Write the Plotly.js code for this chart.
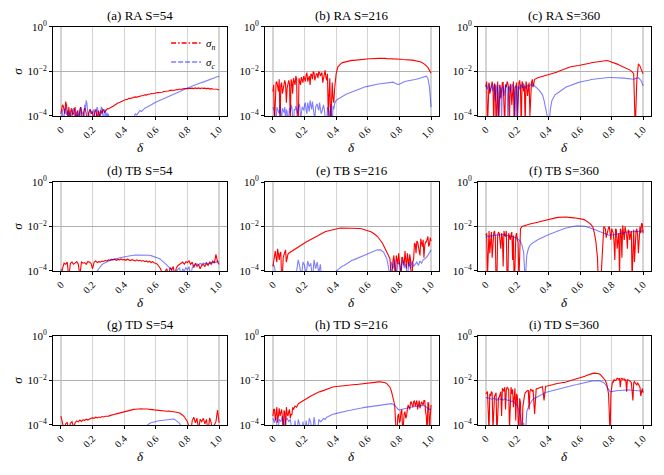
<!DOCTYPE html>
<html>
<head>
<meta charset="utf-8">
<script src="https://cdn.plot.ly/plotly-3.0.1.min.js"></script>
<style>body{margin:0;background:#fff}</style>
</head>
<body>
<div id="sigmaChart" style="width:664px;height:475px"></div>
<script>
// delta grid shared by every panel
var delta = [0,0.01,0.02,0.03,0.04,0.05,0.06,0.07,0.08,0.09,
  0.1,0.11,0.12,0.13,0.14,0.15,0.16,0.17,0.18,0.19,
  0.2,0.21,0.22,0.23,0.24,0.25,0.26,0.27,0.28,0.29,
  0.3,0.31,0.32,0.33,0.34,0.35,0.36,0.37,0.38,0.39,
  0.4,0.41,0.42,0.43,0.44,0.45,0.46,0.47,0.48,0.49,
  0.5,0.51,0.52,0.53,0.54,0.55,0.56,0.57,0.58,0.59,
  0.6,0.61,0.62,0.63,0.64,0.65,0.66,0.67,0.68,0.69,
  0.7,0.71,0.72,0.73,0.74,0.75,0.76,0.77,0.78,0.79,
  0.8,0.81,0.82,0.83,0.84,0.85,0.86,0.87,0.88,0.89,
  0.9,0.91,0.92,0.93,0.94,0.95,0.96,0.97,0.98,0.99,1.0];
// extra in-between samples, used where the curves are noisy
var deltaMid = [0.005,0.015,0.025,0.035,0.045,0.055,0.065,0.075,0.085,0.095,
  0.105,0.115,0.125,0.135,0.145,0.155,0.165,0.175,0.185,0.195,
  0.205,0.215,0.225,0.235,0.245,0.255,0.265,0.275,0.285,0.295,
  0.305,0.315,0.325,0.335,0.345,0.355,0.365,0.375,0.385,0.395,
  0.405,0.415,0.425,0.435,0.445,0.455,0.465,0.475,0.485,0.495,
  0.505,0.515,0.525,0.535,0.545,0.555,0.565,0.575,0.585,0.595,
  0.605,0.615,0.625,0.635,0.645,0.655,0.665,0.675,0.685,0.695,
  0.705,0.715,0.725,0.735,0.745,0.755,0.765,0.775,0.785,0.795,
  0.805,0.815,0.825,0.835,0.845,0.855,0.865,0.875,0.885,0.895,
  0.905,0.915,0.925,0.935,0.945,0.955,0.965,0.975,0.985,0.995];

// values below are log10(sigma)
// (a) RA S=54
var raN54 = [-3.9,-3.5,-3.7,-3.35,-3.8,-3.6,-4.3,-3.75,-3.9,-3.6,
  -3.85,-4.4,-3.7,-3.8,-3.95,-3.65,-3.9,-4.5,-3.75,-3.85,
  -3.8,-3.95,-3.7,-4.3,-3.85,-3.75,-3.9,-3.72,-3.8,-3.7,
  -3.68,-3.62,-3.6,-3.56,-3.5,-3.48,-3.42,-3.39,-3.35,-3.33,
  -3.3,-3.26,-3.26,-3.21,-3.21,-3.18,-3.18,-3.14,-3.15,-3.12,
  -3.12,-3.09,-3.09,-3.05,-3.06,-3.02,-3.02,-2.99,-3.0,-2.97,
  -2.97,-2.95,-2.95,-2.92,-2.93,-2.9,-2.9,-2.87,-2.88,-2.85,
  -2.85,-2.83,-2.84,-2.81,-2.82,-2.79,-2.81,-2.78,-2.79,-2.77,
  -2.77,-2.76,-2.77,-2.75,-2.77,-2.74,-2.77,-2.74,-2.77,-2.74,
  -2.76,-2.75,-2.78,-2.75,-2.79,-2.77,-2.79,-2.79,-2.81,-2.8,-2.83];
var raN54Mid = [-3.7,-3.55,-3.9,-3.5,-4.2,-3.8,-3.65,-3.95,-3.7,-4.3,
  -3.75,-3.9,-3.6,-4.4,-3.8,-3.7,-4.1,-3.85,-3.7,-3.9,
  -4.3,-3.8,-3.9,-3.75,-4.2,-3.8,-3.7,-3.85,-3.75,-3.66];
var raC54 = [-4.5,-3.7,-3.9,-3.6,-3.85,-4.4,-3.75,-3.9,-3.65,-4.5,
  -3.8,-3.9,-4.4,-3.7,-3.85,-3.5,-3.3,-3.9,-4.5,-3.8,
  -3.9,-3.7,-4.4,-3.6,-3.85,-3.75,-3.65,-4.3,-3.7,-3.85,
  -3.9,-4.3,-4.6,-4.6,-4.6,-4.5,-4.6,-4.6,-4.6,-4.6,
  -4.5,-4.6,-4.4,-4.6,-4.3,-4.0,-4.1,-3.9,-3.95,-3.85,
  -3.75,-3.8,-3.7,-3.65,-3.62,-3.57,-3.55,-3.5,-3.46,-3.42,
  -3.37,-3.35,-3.32,-3.29,-3.26,-3.23,-3.2,-3.17,-3.14,-3.1,
  -3.07,-3.04,-3.01,-2.98,-2.95,-2.91,-2.88,-2.84,-2.8,-2.77,
  -2.73,-2.71,-2.68,-2.65,-2.63,-2.6,-2.57,-2.55,-2.52,-2.5,
  -2.47,-2.45,-2.42,-2.4,-2.37,-2.35,-2.32,-2.29,-2.26,-2.24,-2.22];
var raC54Mid = [-3.8,-4.4,-3.7,-3.95,-3.75,-3.9,-4.5,-3.7,-3.8,-3.9,
  -4.3,-3.75,-3.6,-3.9,-4.4,-3.7,-3.45,-4.2,-3.7,-3.9,
  -3.75,-4.3,-3.7,-3.8,-4.5,-3.6,-3.9,-3.75,-4.2,-4.0];

// (b) RA S=216
var raN216 = [-2.9,-4.4,-2.5,-2.7,-2.35,-2.6,-3.0,-2.45,-2.55,-2.75,
  -2.4,-4.3,-2.5,-2.3,-2.6,-2.35,-4.6,-2.4,-2.25,-2.5,
  -2.3,-2.15,-2.45,-2.2,-2.1,-2.35,-2.05,-2.25,-2.1,-2.0,
  -2.2,-2.05,-2.3,-1.95,-2.4,-4.0,-2.3,-2.9,-3.2,-2.8,
  -2.1,-1.8,-1.7,-1.65,-1.6,-1.58,-1.56,-1.55,-1.53,-1.52,
  -1.5,-1.5,-1.49,-1.48,-1.47,-1.47,-1.46,-1.45,-1.45,-1.44,
  -1.44,-1.43,-1.43,-1.42,-1.42,-1.42,-1.41,-1.41,-1.41,-1.4,
  -1.41,-1.41,-1.42,-1.42,-1.43,-1.43,-1.43,-1.44,-1.44,-1.44,
  -1.45,-1.45,-1.46,-1.46,-1.47,-1.47,-1.48,-1.49,-1.49,-1.5,
  -1.51,-1.52,-1.54,-1.56,-1.59,-1.63,-1.68,-1.75,-1.82,-1.95,-2.08];
var raN216Mid = [-2.6,-3.2,-2.45,-2.9,-4.5,-2.5,-2.75,-2.4,-3.4,-2.6,
  -2.55,-2.35,-3.0,-2.45,-2.2,-4.6,-2.3,-2.6,-2.35,-2.2,
  -2.45,-2.05,-2.3,-2.6,-2.15,-2.0,-2.4,-2.1,-2.3,-2.05,
  -2.15,-2.5,-2.0,-2.25,-2.1,-3.0,-4.6,-2.5,-3.4,-2.4];
var raC216 = [-3.6,-3.8,-4.4,-3.7,-3.9,-3.75,-3.65,-3.85,-4.3,-3.8,
  -3.7,-3.85,-3.6,-4.5,-3.75,-3.8,-3.7,-3.55,-3.9,-3.65,
  -3.5,-3.75,-3.4,-3.8,-3.55,-3.35,-3.7,-3.6,-3.45,-3.75,
  -3.6,-3.8,-3.5,-3.9,-4.3,-3.7,-4.6,-3.85,-3.55,-3.45,
  -3.3,-3.25,-3.2,-3.15,-3.1,-3.07,-3.03,-3.0,-2.97,-2.94,
  -2.92,-2.89,-2.86,-2.83,-2.8,-2.77,-2.74,-2.72,-2.7,-2.68,
  -2.66,-2.64,-2.63,-2.61,-2.6,-2.58,-2.57,-2.56,-2.55,-2.54,
  -2.54,-2.53,-2.52,-2.5,-2.49,-2.47,-2.48,-2.52,-2.56,-2.58,
  -2.57,-2.52,-2.48,-2.46,-2.44,-2.42,-2.41,-2.4,-2.39,-2.37,
  -2.36,-2.35,-2.33,-2.3,-2.28,-2.26,-2.24,-2.21,-2.3,-2.7,-3.6];
var raC216Mid = [-3.7,-4.5,-3.6,-3.9,-3.5,-4.2,-3.8,-3.6,-3.7,-4.4,
  -3.65,-3.5,-4.0,-3.7,-3.55,-3.9,-3.45,-4.1,-3.6,-3.75,
  -3.4,-3.9,-3.55,-3.3,-3.7,-3.6,-4.2,-3.5,-3.65,-3.4,
  -3.9,-3.55,-3.7,-4.4,-3.6,-3.8,-3.5,-4.6,-3.7,-3.35];

// (c) RA S=360
var raN360 = [-2.7,-4.5,-2.5,-2.8,-2.45,-4.4,-2.65,-2.9,-4.6,-2.6,
  -2.75,-2.5,-4.5,-2.7,-2.55,-4.3,-2.8,-2.6,-4.6,-2.7,
  -4.2,-2.5,-2.75,-2.45,-2.9,-4.4,-2.6,-2.55,-4.0,-2.5,
  -2.7,-2.35,-2.3,-2.28,-2.26,-2.24,-2.22,-2.21,-2.19,-2.18,
  -2.16,-2.14,-2.12,-2.09,-2.06,-2.03,-2.0,-1.97,-1.94,-1.9,
  -1.87,-1.85,-1.83,-1.81,-1.79,-1.77,-1.76,-1.75,-1.74,-1.73,
  -1.72,-1.7,-1.68,-1.67,-1.66,-1.64,-1.63,-1.61,-1.6,-1.58,
  -1.57,-1.55,-1.54,-1.52,-1.51,-1.5,-1.5,-1.51,-1.53,-1.55,
  -1.58,-1.6,-1.62,-1.65,-1.68,-1.72,-1.75,-1.78,-1.81,-1.84,
  -1.87,-1.9,-1.95,-2.02,-2.1,-4.6,-2.4,-1.65,-1.75,-1.95,-2.1];
var raN360Mid = [-2.45,-2.6,-3.0,-2.5,-2.7,-2.55,-4.5,-2.45,-2.7,-3.2,
  -2.5,-4.4,-2.6,-2.45,-2.8,-2.55,-3.5,-2.45,-2.7,-2.5,
  -2.6,-2.4,-4.6,-2.55,-2.65,-2.45,-3.1,-2.5,-2.6,-2.35];
var raC360 = [-2.6,-2.8,-2.55,-2.9,-2.65,-2.75,-3.3,-2.6,-4.4,-2.7,
  -4.2,-2.65,-2.85,-2.6,-4.3,-2.7,-2.75,-2.6,-2.9,-2.65,
  -4.5,-2.7,-2.6,-2.75,-2.55,-2.65,-2.7,-2.6,-2.65,-2.6,
  -2.62,-2.65,-2.7,-2.75,-2.85,-2.95,-3.05,-3.3,-3.6,-4.0,
  -4.6,-3.7,-3.3,-3.15,-3.05,-3.0,-2.95,-2.9,-2.85,-2.78,
  -2.72,-2.7,-2.67,-2.64,-2.61,-2.58,-2.55,-2.53,-2.51,-2.49,
  -2.47,-2.46,-2.44,-2.42,-2.41,-2.39,-2.38,-2.36,-2.35,-2.34,
  -2.32,-2.31,-2.3,-2.3,-2.29,-2.28,-2.28,-2.27,-2.27,-2.27,
  -2.27,-2.28,-2.27,-2.28,-2.29,-2.28,-2.29,-2.3,-2.3,-2.31,
  -2.32,-2.33,-2.33,-2.34,-2.35,-2.32,-2.3,-2.28,-2.35,-2.45,-2.65];
var raC360Mid = [-2.7,-2.6,-2.85,-2.65,-2.9,-2.55,-2.7,-2.95,-2.6,-2.8,
  -2.7,-3.1,-2.6,-2.75,-2.65,-2.9,-2.6,-2.75,-4.2,-2.7,
  -2.65,-2.8,-2.6,-2.7,-2.6,-2.75,-2.62,-2.68,-2.58,-2.64,
  -2.6,-2.68];

// (d) TB S=54
var tbN54 = [-4.5,-3.9,-3.65,-3.7,-3.6,-4.3,-3.65,-3.6,-3.7,-3.62,
  -3.58,-3.7,-4.2,-3.6,-3.65,-3.62,-3.7,-3.58,-3.6,-3.66,
  -3.9,-3.6,-3.55,-3.62,-3.58,-3.6,-3.55,-3.57,-3.52,-3.56,
  -3.5,-3.52,-3.48,-3.5,-3.47,-3.52,-3.48,-3.5,-3.46,-3.5,
  -3.48,-3.52,-3.47,-3.5,-3.53,-3.49,-3.52,-3.55,-3.5,-3.54,
  -3.52,-3.56,-3.53,-3.58,-3.55,-3.6,-3.56,-3.62,-3.58,-3.64,
  -3.65,-3.7,-3.8,-3.9,-4.1,-4.4,-4.0,-3.9,-4.3,-3.85,
  -3.95,-3.8,-4.2,-3.85,-3.75,-3.7,-3.65,-3.6,-3.7,-3.58,
  -3.62,-3.55,-3.7,-3.6,-3.85,-3.65,-3.8,-3.7,-3.9,-3.75,
  -3.7,-3.8,-3.65,-3.75,-3.6,-3.7,-3.55,-3.65,-3.25,-3.6,-3.7];
var tbC54 = [-3.9,-4.2,-4.6,-4.6,-4.6,-4.6,-4.6,-4.6,-4.6,-4.6,
  -4.6,-4.6,-4.6,-4.6,-4.6,-4.6,-4.6,-4.6,-4.6,-4.6,
  -4.6,-4.5,-4.2,-4.0,-3.9,-3.78,-3.72,-3.66,-3.62,-3.58,
  -3.56,-3.53,-3.5,-3.48,-3.46,-3.44,-3.42,-3.4,-3.39,-3.38,
  -3.36,-3.35,-3.34,-3.32,-3.31,-3.3,-3.29,-3.28,-3.28,-3.27,
  -3.27,-3.27,-3.27,-3.27,-3.28,-3.28,-3.29,-3.31,-3.33,-3.35,
  -3.37,-3.4,-3.44,-3.48,-3.53,-3.6,-3.67,-3.74,-3.82,-3.88,
  -3.92,-4.1,-4.4,-4.0,-3.9,-3.85,-4.2,-3.9,-4.0,-3.85,
  -3.95,-3.8,-4.3,-3.85,-3.75,-3.7,-3.68,-3.72,-3.66,-3.7,
  -3.65,-3.68,-3.62,-3.7,-3.64,-3.6,-3.63,-3.58,-3.62,-3.55,-3.6];

// (e) TB S=216
var tbN216 = [-3.8,-3.2,-3.4,-3.0,-3.5,-3.15,-4.2,-3.3,-3.05,-3.4,
  -3.2,-3.15,-3.1,-3.05,-3.0,-2.95,-2.9,-2.86,-2.82,-2.78,
  -2.74,-2.7,-2.66,-2.62,-2.58,-2.53,-2.49,-2.45,-2.41,-2.37,
  -2.33,-2.3,-2.27,-2.24,-2.21,-2.19,-2.17,-2.15,-2.13,-2.11,
  -2.1,-2.09,-2.08,-2.07,-2.07,-2.06,-2.06,-2.06,-2.06,-2.06,
  -2.06,-2.06,-2.07,-2.07,-2.08,-2.09,-2.1,-2.12,-2.14,-2.16,
  -2.19,-2.21,-2.24,-2.28,-2.32,-2.38,-2.44,-2.52,-2.6,-2.72,
  -2.85,-3.0,-3.15,-3.3,-3.45,-4.4,-3.5,-3.9,-3.3,-3.7,
  -3.55,-4.3,-3.4,-3.75,-3.6,-3.2,-3.8,-3.5,-4.2,-3.45,
  -2.8,-2.65,-2.9,-3.3,-2.75,-2.6,-2.85,-2.7,-2.45,-2.8,-2.65];
var tbN216MidLo = [-3.5,-3.1,-3.6,-3.3,-3.2,-4.4,-3.4,-3.1,-3.6,-3.25];
var tbN216MidHi = [-3.8,-3.3,-4.5,-3.5,-3.2,-3.9,-3.4,-3.6,-3.1,-3.9,
  -3.5,-3.25,-4.4,-3.6,-2.75,-3.2,-2.7,-3.0,-2.55,-2.9,
  -3.4,-2.7,-2.6,-2.9,-2.5];
var tbC216 = [-3.7,-3.8,-4.3,-4.6,-4.6,-4.6,-4.6,-4.6,-4.6,-4.6,
  -4.6,-4.6,-4.6,-4.6,-4.5,-4.0,-3.5,-3.8,-4.3,-3.6,
  -3.75,-4.2,-3.55,-3.8,-3.65,-4.4,-3.5,-3.9,-3.6,-4.1,
  -3.7,-4.5,-4.6,-4.6,-4.6,-4.5,-4.6,-4.6,-4.3,-4.1,
  -4.0,-3.95,-3.88,-3.83,-3.78,-3.75,-3.7,-3.66,-3.62,-3.58,
  -3.52,-3.5,-3.47,-3.44,-3.4,-3.37,-3.34,-3.32,-3.29,-3.26,
  -3.22,-3.2,-3.17,-3.15,-3.1,-3.07,-3.05,-3.06,-3.04,-3.1,
  -3.15,-3.3,-3.45,-3.8,-4.3,-3.6,-3.9,-3.5,-4.2,-3.7,
  -3.6,-4.0,-3.5,-3.85,-3.7,-4.3,-3.6,-3.9,-3.55,-3.8,
  -3.7,-3.6,-3.75,-3.55,-3.65,-3.5,-3.45,-3.4,-3.3,-3.2,-3.05];

// (f) TB S=360
var tbN360 = [-2.4,-4.3,-2.2,-2.5,-3.4,-2.3,-2.45,-4.5,-2.25,-2.6,
  -2.3,-3.8,-2.4,-2.2,-4.4,-2.5,-2.35,-3.5,-4.6,-2.45,
  -2.6,-4.5,-2.1,-2.0,-1.97,-1.94,-1.92,-1.91,-1.89,-1.88,
  -1.87,-1.85,-1.83,-1.81,-1.79,-1.77,-1.75,-1.73,-1.71,-1.7,
  -1.69,-1.67,-1.65,-1.63,-1.61,-1.6,-1.59,-1.58,-1.57,-1.57,
  -1.57,-1.57,-1.58,-1.58,-1.59,-1.6,-1.61,-1.62,-1.63,-1.64,
  -1.64,-1.66,-1.68,-1.71,-1.75,-1.8,-1.86,-1.93,-2.01,-2.3,
  -2.7,-3.4,-4.5,-4.6,-3.0,-2.0,-2.1,-2.3,-2.05,-2.4,
  -2.1,-2.3,-3.5,-2.15,-2.4,-4.3,-2.2,-1.95,-2.6,-2.25,
  -3.0,-2.2,-2.35,-4.4,-2.15,-2.5,-2.1,-3.2,-2.0,-1.85,-2.3];
var tbN360MidLo = [-2.3,-2.5,-3.2,-2.25,-2.6,-2.2,-4.6,-2.4,-2.3,-3.0,
  -2.5,-2.2,-2.45,-4.5,-2.3,-2.6,-2.25,-2.4,-3.9,-2.3,
  -2.7,-3.6];
var tbN360MidHi = [-2.5,-3.1,-4.6,-4.6,-3.8,-2.3,-2.05,-2.5,-2.15,-2.0,
  -2.6,-2.2,-2.7,-2.1,-3.0,-2.3,-2.1,-3.4,-2.2,-2.0,
  -2.4,-2.15,-2.6,-2.2,-2.3,-3.6,-2.2,-2.4,-2.1,-2.3,
  -1.9];
var tbC360 = [-2.5,-2.42,-2.45,-2.4,-2.43,-2.38,-2.41,-2.37,-2.39,-2.36,
  -2.38,-2.36,-2.38,-2.39,-2.4,-2.42,-2.44,-2.46,-2.48,-2.5,
  -2.54,-2.6,-2.68,-2.85,-3.15,-4.5,-3.3,-3.0,-2.85,-2.78,
  -2.72,-2.68,-2.64,-2.6,-2.56,-2.52,-2.48,-2.45,-2.42,-2.39,
  -2.36,-2.33,-2.31,-2.28,-2.25,-2.22,-2.19,-2.16,-2.13,-2.11,
  -2.09,-2.07,-2.05,-2.03,-2.01,-2.0,-1.99,-1.98,-1.97,-1.97,
  -1.97,-1.97,-1.98,-1.99,-2.01,-2.03,-2.05,-2.08,-2.11,-2.13,
  -2.16,-2.19,-2.22,-2.25,-2.28,-2.31,-2.34,-2.36,-2.38,-2.39,
  -2.39,-2.38,-2.36,-2.35,-2.33,-2.31,-2.3,-2.28,-2.27,-2.26,
  -2.25,-2.25,-2.24,-2.24,-2.23,-2.23,-2.22,-2.22,-2.21,-2.21,-2.21];

// (g) TD S=54
var tdN54 = [-3.6,-3.9,-4.2,-3.95,-3.88,-4.3,-3.92,-3.85,-4.1,-3.9,
  -3.82,-3.86,-3.78,-3.84,-3.76,-3.8,-3.74,-3.78,-3.72,-3.7,
  -3.68,-3.7,-3.65,-3.68,-3.64,-3.66,-3.62,-3.64,-3.61,-3.62,
  -3.6,-3.58,-3.57,-3.54,-3.52,-3.5,-3.48,-3.45,-3.43,-3.41,
  -3.4,-3.38,-3.36,-3.35,-3.33,-3.32,-3.3,-3.29,-3.28,-3.27,
  -3.27,-3.27,-3.28,-3.27,-3.29,-3.28,-3.3,-3.29,-3.31,-3.32,
  -3.33,-3.34,-3.33,-3.35,-3.36,-3.37,-3.36,-3.38,-3.37,-3.38,
  -3.37,-3.39,-3.4,-3.42,-3.44,-3.46,-3.5,-3.56,-3.63,-3.72,
  -3.85,-4.1,-4.4,-3.8,-3.65,-3.9,-3.7,-4.2,-3.75,-3.85,
  -3.7,-3.95,-3.75,-4.3,-3.68,-3.9,-4.4,-4.0,-3.85,-3.33,-3.9];
var tdC54 = [-4.6,-4.6,-4.6,-4.6,-4.6,-4.6,-4.6,-4.6,-4.6,-4.6,
  -4.6,-4.6,-4.6,-4.6,-4.6,-4.6,-4.6,-4.6,-4.6,-4.6,
  -4.6,-4.6,-4.6,-4.6,-4.6,-4.6,-4.6,-4.6,-4.6,-4.6,
  -4.6,-4.6,-4.6,-4.6,-4.6,-4.6,-4.6,-4.6,-4.6,-4.6,
  -4.6,-4.6,-4.6,-4.6,-4.6,-4.6,-4.6,-4.6,-4.6,-4.6,
  -4.6,-4.5,-4.3,-4.15,-4.05,-3.98,-3.93,-3.9,-3.87,-3.85,
  -3.84,-3.82,-3.81,-3.8,-3.79,-3.78,-3.77,-3.75,-3.74,-3.73,
  -3.72,-3.73,-3.75,-3.8,-3.86,-3.93,-4.05,-4.3,-4.6,-4.6,
  -4.6,-4.6,-4.6,-4.6,-4.6,-4.6,-4.6,-4.6,-4.6,-4.6,
  -4.6,-4.6,-4.6,-4.6,-4.6,-4.6,-4.6,-4.6,-4.6,-4.6,-4.6];

// (h) TD S=216
var tdN216 = [-3.6,-3.3,-3.5,-3.9,-3.25,-3.45,-3.65,-3.35,-4.3,-3.5,
  -3.4,-3.7,-3.55,-3.3,-3.15,-3.2,-3.05,-3.0,-2.95,-2.9,
  -2.85,-2.81,-2.78,-2.74,-2.7,-2.66,-2.62,-2.58,-2.55,-2.52,
  -2.5,-2.47,-2.44,-2.41,-2.38,-2.35,-2.33,-2.31,-2.29,-2.28,
  -2.27,-2.26,-2.25,-2.25,-2.24,-2.23,-2.22,-2.22,-2.21,-2.2,
  -2.2,-2.19,-2.18,-2.18,-2.17,-2.16,-2.15,-2.14,-2.13,-2.12,
  -2.12,-2.11,-2.1,-2.09,-2.08,-2.07,-2.06,-2.06,-2.06,-2.07,
  -2.08,-2.1,-2.14,-2.2,-2.3,-2.5,-2.75,-3.1,-4.5,-3.6,
  -3.9,-3.4,-4.2,-3.5,-3.7,-3.3,-3.2,-3.0,-3.1,-2.95,
  -3.15,-2.9,-3.05,-3.25,-2.95,-3.1,-2.9,-3.6,-3.0,-4.3,-3.1];
var tdN216MidLo = [-3.3,-3.8,-3.2,-3.5,-3.6,-3.3,-4.4,-3.4,-3.2,-3.6,
  -3.3,-3.5,-3.2];
var tdN216MidHi = [-4.2,-3.5,-3.8,-3.3,-4.0,-3.4,-3.6,-3.1,-3.3,-2.95,
  -3.2,-2.9,-3.0,-3.3,-2.9,-3.15,-3.05,-2.9,-3.4,-4.5,
  -3.0,-3.6];
var tdC216 = [-3.7,-3.9,-3.65,-4.4,-3.75,-3.85,-3.6,-4.3,-3.8,-3.7,
  -3.85,-3.75,-4.2,-4.5,-3.8,-4.6,-3.75,-4.0,-4.6,-3.85,
  -4.6,-3.8,-4.3,-3.7,-3.9,-4.5,-3.65,-4.1,-4.6,-3.75,
  -3.85,-3.8,-3.7,-3.75,-3.65,-3.62,-3.58,-3.55,-3.52,-3.5,
  -3.48,-3.46,-3.44,-3.42,-3.41,-3.4,-3.38,-3.37,-3.35,-3.34,
  -3.33,-3.32,-3.3,-3.29,-3.27,-3.26,-3.24,-3.22,-3.21,-3.19,
  -3.18,-3.17,-3.16,-3.14,-3.13,-3.12,-3.1,-3.09,-3.08,-3.07,
  -3.06,-3.05,-3.04,-3.04,-3.03,-3.04,-3.07,-3.12,-3.2,-3.28,
  -3.33,-3.3,-3.28,-3.26,-3.25,-3.23,-3.22,-3.2,-3.19,-3.18,
  -3.17,-3.16,-3.15,-3.14,-3.13,-3.12,-3.15,-3.2,-3.25,-3.3,-3.3];

// (i) TD S=360
var tdN360 = [-2.6,-2.5,-4.3,-2.7,-2.55,-3.2,-2.65,-4.5,-2.8,-2.6,
  -3.6,-2.4,-2.3,-2.45,-2.35,-4.2,-2.3,-2.4,-2.5,-3.8,
  -2.7,-4.5,-3.0,-4.6,-2.8,-2.55,-2.5,-2.45,-2.5,-2.42,
  -2.42,-3.5,-2.38,-2.36,-2.33,-2.3,-2.28,-2.9,-2.26,-2.25,
  -2.24,-2.23,-2.2,-2.18,-2.16,-2.14,-2.12,-2.11,-2.1,-2.09,
  -2.09,-2.06,-2.04,-2.02,-2.0,-1.98,-1.96,-1.94,-1.93,-1.91,
  -1.9,-1.87,-1.84,-1.81,-1.78,-1.75,-1.72,-1.7,-1.68,-1.67,
  -1.67,-1.68,-1.7,-1.75,-1.82,-1.9,-2.0,-2.2,-2.6,-4.5,
  -2.3,-2.1,-2.0,-1.95,-1.92,-1.9,-1.92,-1.95,-1.93,-1.96,
  -1.97,-2.0,-2.05,-2.6,-2.1,-2.12,-2.2,-2.15,-2.3,-2.4,-2.55];
var tdN360MidLo = [-2.55,-3.4,-2.6,-2.5,-4.2,-2.7,-2.55,-3.0,-2.75,-2.5,
  -2.35,-2.5,-3.3,-2.3,-2.4,-2.45,-2.6,-3.2,-2.35,-2.6,
  -3.6,-2.8,-4.5,-3.2,-2.7,-2.5,-2.45,-3.3,-2.4,-2.5];
var tdN360MidHi = [-3.5,-2.6,-2.05,-1.95,-2.0,-1.9,-1.95,-2.3,-1.9,-1.95,
  -2.0,-2.5,-1.98,-2.02,-2.1,-2.9,-2.05,-2.2,-2.1,-2.25,
  -2.7,-2.35];
var tdC360 = [-2.75,-2.8,-2.78,-2.82,-2.85,-2.8,-2.83,-2.9,-2.8,-2.85,
  -2.84,-2.88,-2.82,-2.86,-2.9,-2.88,-2.95,-2.92,-3.0,-3.05,
  -3.1,-3.3,-3.6,-4.5,-3.9,-4.6,-3.4,-3.2,-3.03,-2.93,
  -2.84,-2.8,-2.76,-2.72,-2.68,-2.64,-2.6,-2.57,-2.54,-2.52,
  -2.5,-2.48,-2.46,-2.44,-2.42,-2.4,-2.38,-2.36,-2.34,-2.32,
  -2.3,-2.28,-2.27,-2.25,-2.24,-2.22,-2.21,-2.19,-2.18,-2.16,
  -2.15,-2.13,-2.12,-2.1,-2.08,-2.06,-2.05,-2.03,-2.02,-2.01,
  -2.0,-2.0,-2.01,-2.03,-2.06,-2.1,-2.18,-2.28,-2.42,-2.5,
  -2.5,-2.48,-2.47,-2.46,-2.45,-2.45,-2.44,-2.44,-2.43,-2.43,
  -2.42,-2.42,-2.43,-2.44,-2.44,-2.45,-2.46,-2.47,-2.47,-2.48,-2.48];

var panelTitles = ['(a) RA S=54','(b) RA S=216','(c) RA S=360',
                   '(d) TB S=54','(e) TB S=216','(f) TB S=360',
                   '(g) TD S=54','(h) TD S=216','(i) TD S=360'];
var sigmaN = [raN54, raN216, raN360, tbN54, tbN216, tbN360, tdN54, tdN216, tdN360];
var sigmaC = [raC54, raC216, raC360, tbC54, tbC216, tbC360, tdC54, tdC216, tdC360];
// [first deltaMid index, extra values] for each panel
var sigmaNMid = [[[0, raN54Mid]], [[0, raN216Mid]], [[0, raN360Mid]], [],
                 [[0, tbN216MidLo], [75, tbN216MidHi]], [[0, tbN360MidLo], [69, tbN360MidHi]], [],
                 [[0, tdN216MidLo], [78, tdN216MidHi]], [[0, tdN360MidLo], [78, tdN360MidHi]]];
var sigmaCMid = [[[0, raC54Mid]], [[0, raC216Mid]], [[0, raC360Mid]], [], [], [], [], [], []];
var xTicks = [0, 0.2, 0.4, 0.6, 0.8, 1.0];
var xTickText = ['0', '0.2', '0.4', '0.6', '0.8', '1.0'];
var yTicks = [1e-4, 1e-2, 1];
var yTickText = ['10<sup>\u22124</sup>', '10<sup>\u22122</sup>', '10<sup>0</sup>'];

// merge base samples with the extra in-between samples, sorted along delta
function series(base, extras){
    var pts = delta.map(function(x, k){ return [x, base[k]]; });
    extras.forEach(function(e){
        e[1].forEach(function(v, k){ pts.push([deltaMid[e[0] + k], v]); });
    });
    pts.sort(function(a, b){ return a[0] - b[0]; });
    return {x: pts.map(function(p){ return p[0]; }),
            y: pts.map(function(p){ return Math.pow(10, p[1]); })};
}

function sigma_chart(){
    var serif = 'Liberation Serif, Times New Roman, serif';
    var colDom = [[0.0798, 0.3419], [0.3991, 0.6611], [0.7199, 0.9804]];
    var rowDom = [[0.7558, 0.9432], [0.4295, 0.6168], [0.1053, 0.2926]];
    var data = [];
    var layout = {
        width: 664, height: 475,
        margin: {l: 0, r: 0, t: 0, b: 0},
        paper_bgcolor: '#fff', plot_bgcolor: '#fff',
        font: {family: serif, size: 11, color: '#000'},
        showlegend: true,
        legend: {x: 0.333, y: 0.94, xanchor: 'right', yanchor: 'top',
                 bgcolor: 'rgba(0,0,0,0)', font: {family: serif, size: 11},
                 tracegroupgap: 0, itemwidth: 30},
        annotations: []
    };
    for (var i = 0; i < 9; i++){
        var s = i === 0 ? '' : String(i + 1);
        var col = i % 3, row = Math.floor(i / 3);
        var sn = series(sigmaN[i], sigmaNMid[i]);
        var sc = series(sigmaC[i], sigmaCMid[i]);
        data.push({
            type: 'scatter', mode: 'lines',
            x: sn.x, y: sn.y, xaxis: 'x' + s, yaxis: 'y' + s,
            line: {color: '#ff0000', width: 1.1},
            showlegend: false, hoverinfo: 'none'
        });
        data.push({
            type: 'scatter', mode: 'lines',
            x: sc.x, y: sc.y, xaxis: 'x' + s, yaxis: 'y' + s,
            line: {color: '#0000ff', width: 1.1}, opacity: 0.5,
            showlegend: false, hoverinfo: 'none'
        });
        layout['xaxis' + s] = {
            domain: colDom[col], anchor: 'y' + s, range: [-0.05, 1.05],
            tickvals: xTicks, ticktext: xTickText, tickangle: -45,
            ticks: 'outside', ticklen: 3, tickcolor: '#000',
            showline: true, mirror: true, linecolor: '#000', linewidth: 1,
            showgrid: true, gridcolor: '#d4d4d4', gridwidth: 1.3,
            zeroline: false, tickfont: {family: serif, size: 10}
        };
        layout['yaxis' + s] = {
            domain: rowDom[row], anchor: 'x' + s, type: 'log', range: [-4, 0],
            tickvals: yTicks, ticktext: yTickText,
            ticks: 'outside', ticklen: 3, tickcolor: '#000',
            showline: true, mirror: true, linecolor: '#000', linewidth: 1,
            showgrid: true, gridcolor: '#b0b0b0', gridwidth: 1,
            zeroline: false, tickfont: {family: serif, size: 11}
        };
        var xc = (colDom[col][0] + colDom[col][1]) / 2;
        layout.annotations.push({
            text: panelTitles[i], xref: 'paper', yref: 'paper',
            x: xc, y: rowDom[row][1], xanchor: 'center', yanchor: 'bottom',
            yshift: 2, showarrow: false, font: {family: serif, size: 13}
        });
        layout.annotations.push({
            text: '<i>\u03b4</i>', xref: 'paper', yref: 'paper',
            x: xc, y: rowDom[row][0] - 0.066, xanchor: 'center', yanchor: 'middle',
            showarrow: false, font: {family: serif, size: 13}
        });
        if (col === 0){
            layout.annotations.push({
                text: '<i>\u03c3</i>', xref: 'paper', yref: 'paper', textangle: -90,
                x: 0.026, y: (rowDom[row][0] + rowDom[row][1]) / 2,
                xanchor: 'center', yanchor: 'middle',
                showarrow: false, font: {family: serif, size: 13}
            });
        }
    }
    // legend keys only (dash-dot for sigma_n, dashed for sigma_c)
    data.push({name: '<i>\u03c3<sub>n</sub></i>', type: 'scatter', mode: 'lines',
               x: [null], y: [null], xaxis: 'x', yaxis: 'y',
               line: {color: '#ff0000', width: 1.5, dash: '5px,2px,1.5px,2px'}});
    data.push({name: '<i>\u03c3<sub>c</sub></i>', type: 'scatter', mode: 'lines',
               x: [null], y: [null], xaxis: 'x', yaxis: 'y', opacity: 0.5,
               line: {color: '#0000ff', width: 1.5, dash: '5px,2px'}});
    var config = {displayModeBar: false, staticPlot: true};
    Plotly.newPlot('sigmaChart', data, layout, config);
}

sigma_chart();
</script>
</body>
</html>
